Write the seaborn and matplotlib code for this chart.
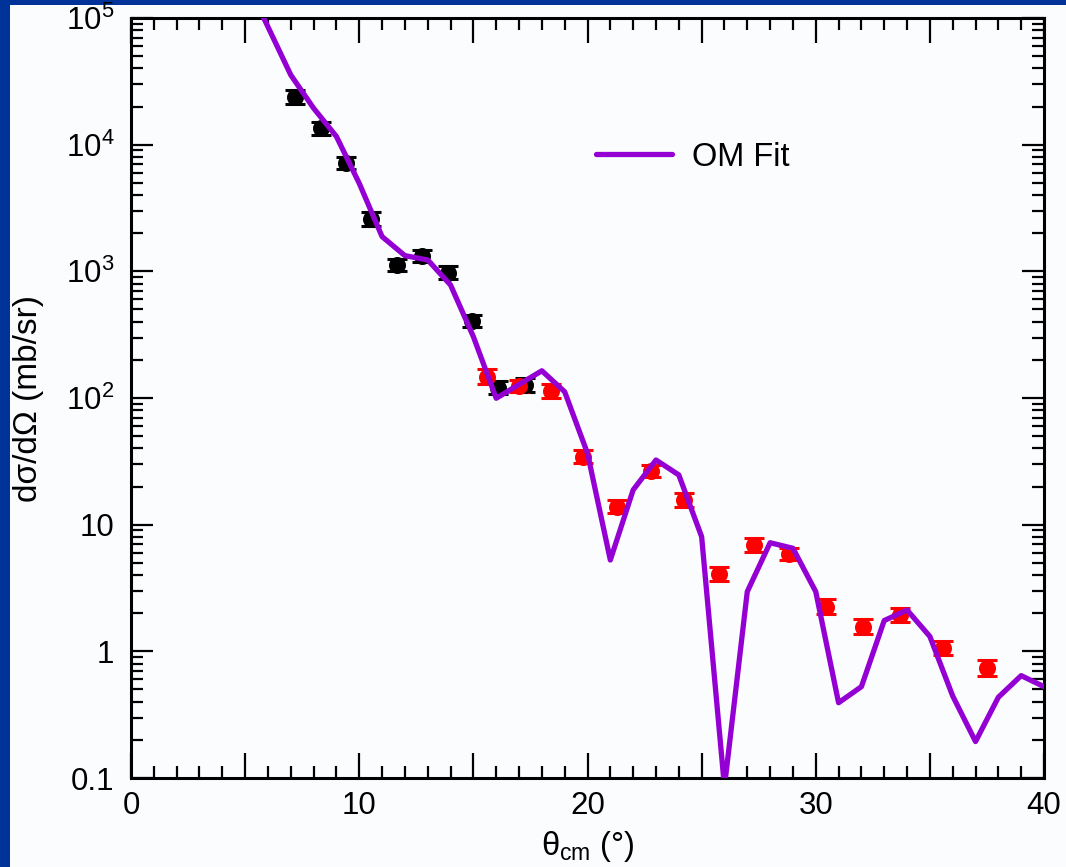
import numpy as np
import pandas as pd
import matplotlib
matplotlib.use("Agg")
import matplotlib.pyplot as plt
import matplotlib.patches as mpatches
import seaborn as sns
from matplotlib.ticker import MultipleLocator, LogLocator, NullFormatter, FuncFormatter

# ---------------- data ----------------
fit_theta = [5.75, 7, 8, 9, 10, 11, 12, 13, 14, 15, 16, 17, 18, 19, 20, 21, 22,
             23, 24, 25, 26, 27, 28, 29, 30, 31, 32, 33, 34, 35, 36, 37, 38, 39, 40]
fit_sigma = [1.06e5, 35500, 19400, 11600, 4950, 1880, 1330, 1230, 780, 305, 99.5,
             128, 164, 112, 36.6, 5.26, 18.8, 32.4, 24.7, 8.04, 0.085, 2.96, 7.2,
             6.51, 2.96, 0.393, 0.526, 1.75, 2.12, 1.31, 0.444, 0.194, 0.434, 0.643, 0.526]

black_theta = [7.18, 8.31, 9.41, 10.50, 11.64, 12.76, 13.89, 14.95, 16.09, 17.27]
black_sigma = [23900, 13460, 7190, 2590, 1122, 1321, 975, 407, 120.6, 126.7]
black_err = [0.14, 0.13, 0.12, 0.14, 0.12, 0.12, 0.13, 0.12, 0.12, 0.13]

red_theta = [15.61, 17.01, 18.40, 19.82, 21.28, 22.77, 24.24, 25.78, 27.29, 28.84,
             30.45, 32.06, 33.69, 35.59, 37.49]
red_sigma = [147, 124, 114, 34.4, 13.9, 26.5, 15.7, 4.08, 6.91, 5.87, 2.25, 1.57,
             1.94, 1.06, 0.743]
red_err = [0.15, 0.12, 0.13, 0.12, 0.12, 0.12, 0.13, 0.13, 0.13, 0.12, 0.15, 0.15,
           0.13, 0.14, 0.16]

x_ticklabels = {0: "0", 10: "10", 20: "20", 30: "30", 40: "40"}
y_ticklabels = {0.1: "0.1", 1: "1", 10: "10", 100: "10$^{2}$", 1000: "10$^{3}$",
                1e4: "10$^{4}$", 1e5: "10$^{5}$"}

# ---------------- style ----------------
sns.set_theme(style="ticks")
plt.rcParams["font.family"] = ["Liberation Sans", "DejaVu Sans"]
plt.rcParams["mathtext.fontset"] = "custom"
plt.rcParams["mathtext.rm"] = "Liberation Sans"
plt.rcParams["mathtext.it"] = "Liberation Sans:italic"
plt.rcParams["mathtext.default"] = "regular"

BLUE = "#003399"
PANEL = "#fbfcfe"
PURPLE = "#9400D3"

fig = plt.figure(figsize=(10.66, 8.67), dpi=100, facecolor=BLUE)
panel = mpatches.Rectangle((10 / 1066, 0), 1, 1 - 5 / 867,
                           transform=fig.transFigure, facecolor=PANEL,
                           edgecolor="none", zorder=-10)
fig.patches.append(panel)
ax = fig.add_axes([131 / 1066, 1 - 778 / 867, 913 / 1066, 760 / 867])
ax.set_facecolor(PANEL)


def draw_points(theta, sigma, frac, color):
    s = np.asarray(sigma)
    f = np.asarray(frac)
    lower = s - s / (1 + f)
    upper = s * f
    ax.errorbar(theta, sigma, yerr=[lower, upper], fmt="none", ecolor=color,
                elinewidth=2, capsize=7, capthick=2.2, zorder=2)
    sns.scatterplot(x=theta, y=sigma, ax=ax, color=color, s=150, marker="o",
                    edgecolor=color, linewidth=0, zorder=3, legend=False)


draw_points(black_theta, black_sigma, black_err, "black")
draw_points(red_theta, red_sigma, red_err, "#ff0000")

fit_df = pd.DataFrame({"theta": fit_theta, "sigma": fit_sigma})
sns.lineplot(data=fit_df, x="theta", y="sigma", ax=ax, color=PURPLE, lw=3.8,
             sort=False, estimator=None, label="OM Fit", zorder=4)

ax.set_yscale("log")
ax.set_xlim(0, 40)
ax.set_ylim(0.1, 1e5)

ax.xaxis.set_major_locator(MultipleLocator(5))
ax.xaxis.set_minor_locator(MultipleLocator(1))
ax.xaxis.set_major_formatter(FuncFormatter(
    lambda v, p: x_ticklabels.get(int(round(v)), "") if abs(v - round(v)) < 1e-6 else ""))
ax.yaxis.set_major_locator(LogLocator(base=10, numticks=20))
ax.yaxis.set_minor_locator(LogLocator(base=10, subs=np.arange(2, 10), numticks=20))
ax.yaxis.set_minor_formatter(NullFormatter())


def yfmt(v, p):
    for k, lab in y_ticklabels.items():
        if abs(np.log10(v) - np.log10(k)) < 1e-6:
            return lab
    return ""


ax.yaxis.set_major_formatter(FuncFormatter(yfmt))

ax.tick_params(which="both", direction="in", top=True, right=True, color="black",
               labelcolor="black", labelsize=22.5)
ax.tick_params(axis="x", which="major", length=18, width=1.6, pad=9)
ax.tick_params(axis="x", which="minor", length=8.6, width=1.6)
ax.tick_params(axis="y", which="major", length=16, width=1.6, pad=12)
ax.tick_params(axis="y", which="minor", length=8.6, width=1.6)
for sp in ax.spines.values():
    sp.set_linewidth(2.2)
    sp.set_color("black")

ax.set_xlabel("$θ_{cm}$ (°)", fontsize=23.5, color="black", labelpad=6)
ax.set_ylabel("dσ/dΩ (mb/sr)", fontsize=24, color="black")
ax.yaxis.set_label_coords(-(131 - 44) / 913, 0.5)

leg = ax.legend(loc="center left", bbox_to_anchor=(0.509, 0.817), frameon=False,
                fontsize=23.5, handlelength=2.35, handletextpad=0.6, borderpad=0,
                borderaxespad=0)
for t in leg.get_texts():
    t.set_color("black")

fig.savefig("out.png", dpi=100, facecolor=BLUE)
